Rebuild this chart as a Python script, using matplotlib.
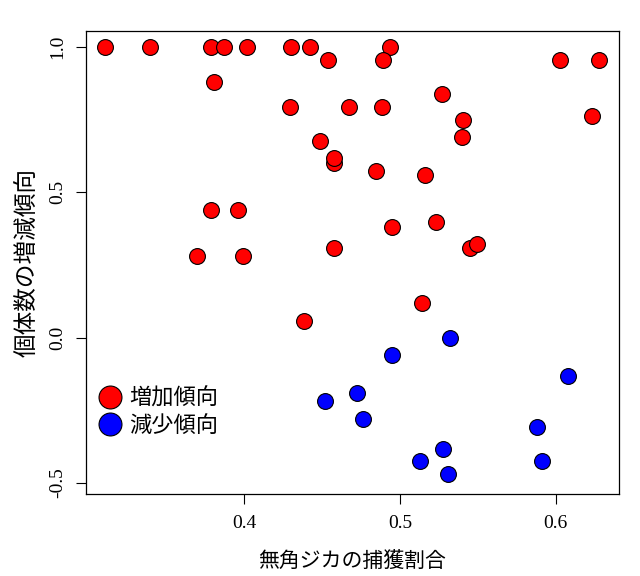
import matplotlib
matplotlib.use("Agg")
import matplotlib.pyplot as plt
from matplotlib.lines import Line2D

# Data
x_inc = [0.3107, 0.3394, 0.3784, 0.3868, 0.4015, 0.4300, 0.4422, 0.4936,
         0.4538, 0.4893, 0.6032, 0.6280, 0.3807,
         0.4295, 0.4672, 0.4882, 0.5272, 0.5407, 0.6233, 0.5396, 0.4488,
         0.4578, 0.4578, 0.4846, 0.5162, 0.3784, 0.3958, 0.4951, 0.5229,
         0.4576, 0.5452, 0.5493, 0.3694, 0.3994, 0.5141, 0.4383]
y_inc = [1.0, 1.0, 1.0, 1.0, 1.0, 1.0, 1.0, 1.0,
         0.954, 0.954, 0.954, 0.954, 0.880,
         0.792, 0.792, 0.792, 0.838, 0.749, 0.762, 0.691, 0.675,
         0.602, 0.616, 0.572, 0.558, 0.440, 0.440, 0.382, 0.397,
         0.309, 0.309, 0.322, 0.279, 0.279, 0.118, 0.058]
x_dec = [0.5320, 0.4949, 0.6080, 0.4724, 0.4516, 0.4762, 0.5878, 0.5276,
         0.5128, 0.5914, 0.5310]
y_dec = [0.000, -0.059, -0.132, -0.191, -0.220, -0.279, -0.308, -0.382,
         -0.425, -0.425, -0.470]
legend_labels = ["増加傾向", "減少傾向"]
xticks = [0.4, 0.5, 0.6]
yticks = [-0.5, 0.0, 0.5, 1.0]
xlabel = "無角ジカの捕獲割合"
ylabel = "個体数の増減傾向"

cjk = ["Noto Sans CJK JP", "DejaVu Sans"]
serif = "Liberation Serif"

fig = plt.figure(figsize=(6.4, 5.76), dpi=100)
ax = fig.add_axes([85.7/640, 1-494/576, (619-85.7)/640, (494-30.7)/576])

ax.scatter(x_inc, y_inc, s=130, c="#ff0000", edgecolors="black", linewidths=0.8, zorder=3)
ax.scatter(x_dec, y_dec, s=130, c="#0000ff", edgecolors="black", linewidths=0.8, zorder=3)

ax.set_xlim(0.2981, 0.6408)
ax.set_ylim(-0.5384, 1.0557)
ax.set_xticks(xticks)
ax.set_xticklabels([f"{v:.1f}" for v in xticks], fontfamily=serif, fontsize=14)
ax.set_yticks(yticks)
ax.set_yticklabels([f"{v:.1f}" for v in yticks], fontfamily=serif, fontsize=14,
                   rotation=90, va="center")
ax.tick_params(axis="x", length=7, width=0.8, pad=8)
ax.tick_params(axis="y", length=7, width=0.8, pad=7)
for sp in ax.spines.values():
    sp.set_linewidth(0.9)

ax.set_xlabel(xlabel, fontfamily=cjk, fontsize=15, labelpad=13)
ax.set_ylabel(ylabel, fontfamily=cjk, fontsize=17, labelpad=7)

handles = [Line2D([], [], marker="o", linestyle="none", markersize=16.5,
                  markerfacecolor=c, markeredgecolor="black", markeredgewidth=0.8)
           for c in ["#ff0000", "#0000ff"]]
leg = ax.legend(handles, legend_labels, loc="center left",
                bbox_to_anchor=(0.009, 0.177), frameon=False,
                prop={"family": cjk, "size": 16}, handletextpad=0.25,
                labelspacing=0.2, borderaxespad=0.0, borderpad=0.3,
                handlelength=1.2)

fig.savefig("out.png", dpi=100)
